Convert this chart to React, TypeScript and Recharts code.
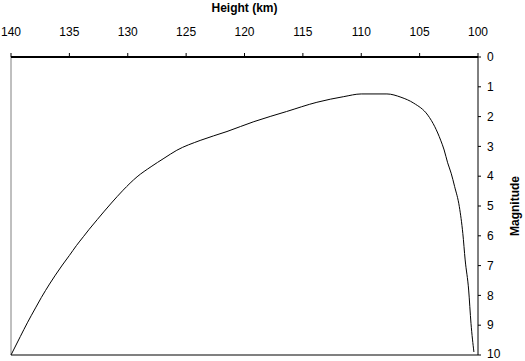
import { LineChart, Line, XAxis, YAxis, ReferenceLine, Label } from 'recharts';

// height (km), read left to right (140 -> 100)
const heights = [
  140, 139.2, 138.6, 137.9, 137.4, 136.7, 136.2, 135.6, 135, 134.4, 133.8, 133.3, 132.6, 131.4,
  130.4, 129.2, 128, 126.9, 125.8, 123.8, 121.5, 119.2, 116.4, 113.8, 111.5, 110, 107.8, 106.6,
  105.5, 104.3, 103.7, 103.2, 102.9, 102.6, 102.3, 102.0, 101.6, 101.3, 101.1, 100.8, 100.6, 100.35,
];
const magnitudes = [
  10, 9.38, 8.92, 8.42, 8.07, 7.62, 7.32, 6.98, 6.66, 6.33, 6.03, 5.78, 5.45, 4.9,
  4.47, 4.02, 3.68, 3.4, 3.13, 2.8, 2.5, 2.17, 1.83, 1.52, 1.33, 1.24, 1.24, 1.35,
  1.55, 1.95, 2.34, 2.79, 3.12, 3.55, 3.9, 4.35, 5.02, 5.92, 6.81, 7.82, 8.94, 9.9,
];
const heightTicks = [140, 135, 130, 125, 120, 115, 110, 105, 100];
const magnitudeTicks = [0, 1, 2, 3, 4, 5, 6, 7, 8, 9, 10];

const data = heights.map((h, i) => ({ h, m: magnitudes[i] }));

const font = '"Liberation Sans", Arial, sans-serif';

export default function App() {
  return (
    <div style={{ position: 'absolute', left: 0, top: 0, background: '#fff' }}>
      <LineChart width={525} height={361} data={data} margin={{ top: 0, right: 0, left: 11, bottom: 6 }}>
        <XAxis
          dataKey="h"
          type="number"
          domain={[100, 140]}
          reversed
          orientation="top"
          ticks={heightTicks}
          height={57}
          tickSize={4}
          tickMargin={17}
          axisLine={{ stroke: '#000', strokeWidth: 2 }}
          tickLine={{ stroke: '#000' }}
          tick={{ fontSize: 12, fill: '#000', fontFamily: font }}
        >
          <Label value="Height (km)" position="insideTop" offset={3} style={{ fontSize: 12, fontWeight: 'bold', fill: '#000', fontFamily: font }} />
        </XAxis>
        <YAxis
          dataKey="m"
          type="number"
          domain={[0, 10]}
          reversed
          orientation="right"
          ticks={magnitudeTicks}
          width={47}
          tickSize={3}
          tickMargin={6}
          axisLine={{ stroke: '#000' }}
          tickLine={{ stroke: '#000' }}
          tick={{ fontSize: 12, fill: '#000', fontFamily: font, textAnchor: 'start' }}
        >
          <Label value="Magnitude" position="center" angle={-90} dx={13} style={{ fontSize: 12, fontWeight: 'bold', fill: '#000', fontFamily: font }} />
        </YAxis>
        <ReferenceLine x={140} stroke="#808080" />
        <ReferenceLine y={10} stroke="#808080" strokeWidth={2} />
        <Line dataKey="m" type="monotone" stroke="#000" strokeWidth={1} dot={false} isAnimationActive={false} />
      </LineChart>
    </div>
  );
}
